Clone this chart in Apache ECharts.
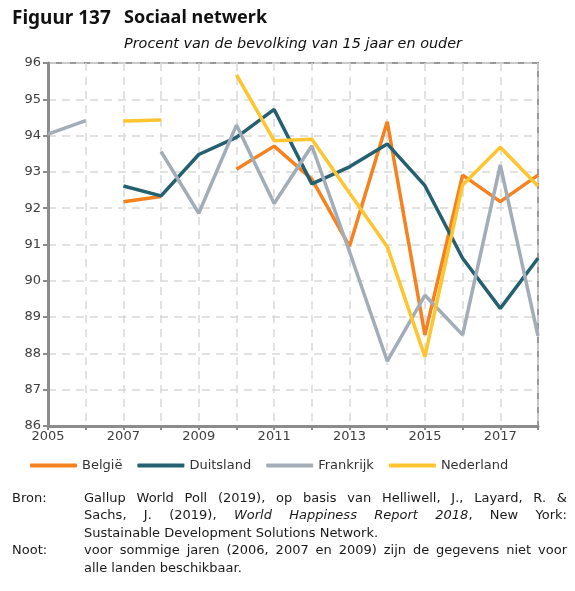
<!DOCTYPE html>
<html>
<head>
<meta charset="utf-8">
<script src="https://cdn.jsdelivr.net/npm/echarts@6/dist/echarts.min.js"></script>
<style>html,body{margin:0;padding:0;background:#fff}#c{width:575px;height:591px}</style>
</head>
<body>
<div id="c"></div>
<script>
const years = ['2005','2006','2007','2008','2009','2010','2011','2012','2013','2014','2015','2016','2017','2018'];
const belgie    = [null, null, 92.18, 92.32, null, 93.07, 93.71, 92.80, 90.95, 94.38, 88.51, 92.91, 92.18, 92.91];
const duitsland = [null, null, 92.61, 92.34, 93.48, 93.95, 94.72, 92.67, 93.14, 93.77, 92.62, 90.62, 89.24, 90.62];
const frankrijk = [94.04, 94.41, null, 93.56, 91.86, 94.29, 92.13, 93.72, 90.80, 87.79, 89.60, 88.51, 93.19, 88.48];
const nederland = [null, null, 94.40, 94.43, null, 95.67, 93.86, 93.90, 92.42, 90.94, 87.91, 92.64, 93.68, 92.61];
const seriesNames = ['België', 'Duitsland', 'Frankrijk', 'Nederland'];
const colors = ['#F5821F', '#24606F', '#A3ADB8', '#FFC52F'];
const yTicks = { min: 86, max: 96, interval: 1 };

const TFONT = '"Noto Sans", sans-serif';
const FONT = '"DejaVu Sans", sans-serif';
const chart = echarts.init(document.getElementById('c'), null, { renderer: 'canvas' });

const fnSize = 13;
const ctx = document.createElement('canvas').getContext('2d');
function fontOf(w) { return (w.italic ? 'italic ' : '') + fnSize + 'px ' + FONT; }
function W(s, italic) { return s.split(' ').map(t => ({ t, italic: !!italic })); }
function layoutLine(words, x0, x1, y, justify) {
  const groups = [];
  words.forEach(w => { if (w.attach) groups[groups.length - 1].push(w); else groups.push([w]); });
  const gw = groups.map(g => g.map(w => { ctx.font = fontOf(w); return ctx.measureText(w.t).width; }));
  const total = gw.reduce((a, g) => a + g.reduce((p, q) => p + q, 0), 0);
  ctx.font = fnSize + 'px ' + FONT;
  const space = ctx.measureText(' ').width;
  const gap = justify && groups.length > 1 ? (x1 - x0 - total) / (groups.length - 1) : space;
  let x = x0; const out = [];
  groups.forEach((g, gi) => {
    g.forEach((w, wi) => {
      out.push({ type: 'text', left: x, top: y, style: { text: w.t, font: fontOf(w), fill: '#1a1a1a' } });
      x += gw[gi][wi];
    });
    x += gap;
  });
  return out;
}
const fnX0 = 84, fnX1 = 567, lh = 17.5, fnY = 500;
let graphics = [
  { type: 'text', left: 12, top: 9, style: { text: 'Figuur 137', font: 'bold 19px ' + TFONT, fill: '#111' } },
  { type: 'text', left: 124, top: 9, style: { text: 'Sociaal netwerk', font: 'bold 18px ' + TFONT, fill: '#111' } },
  { type: 'text', left: 124, top: 37, style: { text: 'Procent van de bevolking van 15 jaar en ouder', font: 'italic 14.4px ' + FONT, fill: '#111' } },
  { type: 'text', left: 12, top: fnY - 8, style: { text: 'Bron:', font: fnSize + 'px ' + FONT, fill: '#1a1a1a' } },
  { type: 'text', left: 12, top: fnY + 3 * lh - 8, style: { text: 'Noot:', font: fnSize + 'px ' + FONT, fill: '#1a1a1a' } }
];
const line2 = W('Sachs, J. (2019),').concat(W('World Happiness Report', true), [{ t: '2018', italic: true }], [{ t: ',', attach: true }], W('New York:'));
graphics = graphics
  .concat(layoutLine(W('Gallup World Poll (2019), op basis van Helliwell, J., Layard, R. &'), fnX0, fnX1, fnY - 8, true))
  .concat(layoutLine(line2, fnX0, fnX1, fnY + lh - 8, true))
  .concat(layoutLine(W('Sustainable Development Solutions Network.'), fnX0, fnX1, fnY + 2 * lh - 8, false))
  .concat(layoutLine(W('voor sommige jaren (2006, 2007 en 2009) zijn de gegevens niet voor'), fnX0, fnX1, fnY + 3 * lh - 8, true))
  .concat(layoutLine(W('alle landen beschikbaar.'), fnX0, fnX1, fnY + 4 * lh - 8, false));

const dataArr = [belgie, duitsland, frankrijk, nederland];
chart.setOption({
  animation: false,
  textStyle: { fontFamily: FONT },
  grid: { left: 48, right: 37, top: 63, bottom: 165, show: true, borderColor: '#999', borderWidth: 2 },
  legend: {
    left: 30, top: 459, padding: 0, itemWidth: 47, itemHeight: 4, itemGap: 15, icon: 'roundRect',
    textStyle: { fontSize: 13, color: '#333', fontFamily: FONT },
    data: seriesNames
  },
  xAxis: {
    type: 'category', data: years, boundaryGap: false,
    axisLine: { lineStyle: { color: '#8c8c8c', width: 3 } },
    axisTick: { show: true, interval: 0, length: 4, lineStyle: { color: '#8c8c8c', width: 2 } },
    axisLabel: { interval: 1, color: '#404040', fontSize: 13, margin: 4, fontFamily: FONT },
    splitLine: { show: true, interval: 0, lineStyle: { color: '#d9d9d9', type: [8, 6], width: 1.5 } }
  },
  yAxis: {
    type: 'value', min: yTicks.min, max: yTicks.max, interval: yTicks.interval,
    axisLine: { show: true, lineStyle: { color: '#8c8c8c', width: 3 } },
    axisTick: { show: true, length: 5, lineStyle: { color: '#8c8c8c', width: 2 } },
    axisLabel: { color: '#404040', fontSize: 13, margin: 7, fontFamily: FONT },
    splitLine: { show: true, lineStyle: { color: '#d9d9d9', type: [8, 6], width: 1.5 } }
  },
  series: seriesNames.map((n, i) => ({
    name: n, type: 'line', data: dataArr[i], symbol: 'none', connectNulls: false,
    lineStyle: { width: 3.5, color: colors[i] }, itemStyle: { color: colors[i] }
  })),
  graphic: graphics
});
</script>
</body>
</html>
